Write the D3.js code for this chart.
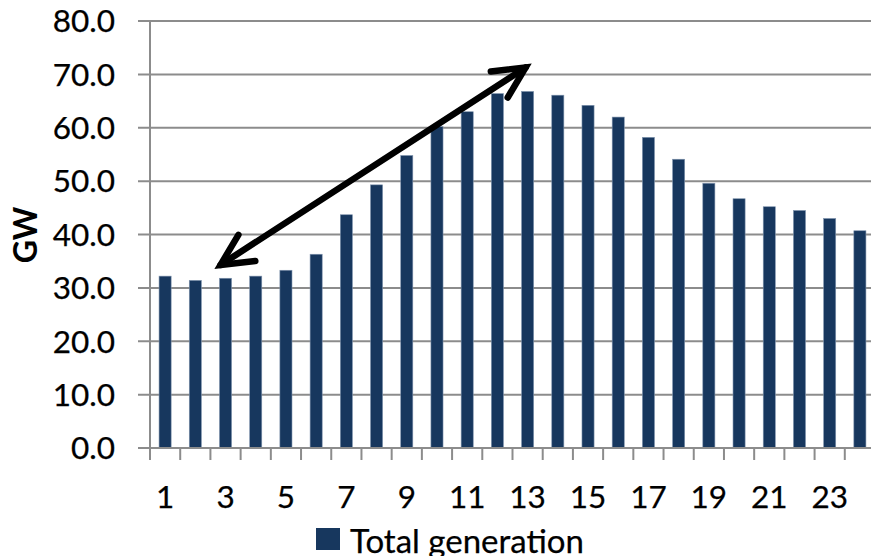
<!DOCTYPE html>
<html>
<head>
<meta charset="utf-8">
<script src="https://cdn.jsdelivr.net/npm/d3@7"></script>
<style>
  html, body { margin: 0; padding: 0; background: #fff; }
  svg { display: block; font-family: Lato, "Open Sans", sans-serif; }
  .lbl { stroke: #000; stroke-width: 0.25px; }
</style>
</head>
<body>
<svg id="chart" width="871" height="556"></svg>
<script>
// Hourly total generation (GW)
const hours = d3.range(1, 25);
const generation = [32.2, 31.4, 31.8, 32.2, 33.3, 36.3, 43.7, 49.3, 54.8, 60.2, 63.0, 66.4,
                    66.8, 66.1, 64.2, 62.0, 58.2, 54.1, 49.6, 46.7, 45.2, 44.5, 43.0, 40.7];
const yTicks = [0, 10, 20, 30, 40, 50, 60, 70, 80];
const xTickLabels = [1, 3, 5, 7, 9, 11, 13, 15, 17, 19, 21, 23];
const seriesName = "Total generation";
const yTitle = "GW";
// Arrow annotation endpoints: [hour, GW]
const arrowFrom = [3, 34.3];
const arrowTo = [13, 71.3];

const svg = d3.select("#chart");
const plot = { left: 150, right: 875, top: 21, bottom: 448 };

const x = d3.scaleBand().domain(hours).range([plot.left, plot.right]).paddingInner(0.6).paddingOuter(0.3);
const xEdge = d3.scaleBand().domain(hours).range([plot.left, plot.right]);
const y = d3.scaleLinear().domain([0, 80]).range([plot.bottom, plot.top]);

const gridColor = "#8c8c8c";
const barColor = "#17375e";

// Horizontal gridlines with short outer ticks
svg.append("g").selectAll("line").data(yTicks).join("line")
  .attr("x1", plot.left - 12).attr("x2", plot.right)
  .attr("y1", d => y(d)).attr("y2", d => y(d))
  .attr("stroke", gridColor).attr("stroke-width", 2);

// Y axis line
svg.append("line")
  .attr("x1", plot.left).attr("x2", plot.left)
  .attr("y1", plot.top).attr("y2", plot.bottom)
  .attr("stroke", gridColor).attr("stroke-width", 2);

// Y tick labels
svg.append("g").selectAll("text").data(yTicks).join("text")
  .attr("class", "lbl")
  .attr("x", 115).attr("y", d => y(d)).attr("dy", "0.36em")
  .attr("text-anchor", "end").attr("font-size", 31.5).attr("fill", "#000")
  .text(d => d3.format(".1f")(d));

// Category ticks below the baseline, at band edges
const edges = hours.map(h => xEdge(h)).concat([plot.right]);
svg.append("g").selectAll("line").data(edges).join("line")
  .attr("x1", d => d).attr("x2", d => d)
  .attr("y1", plot.bottom).attr("y2", plot.bottom + 12)
  .attr("stroke", gridColor).attr("stroke-width", 2);

// Bars
svg.append("g").selectAll("rect").data(hours).join("rect")
  .attr("x", h => x(h)).attr("width", x.bandwidth())
  .attr("y", (h, i) => y(generation[i]))
  .attr("height", (h, i) => y(0) - y(generation[i]))
  .attr("fill", barColor)
  .attr("stroke", "#7f93ad").attr("stroke-width", 0.6);

// Baseline on top of bars
svg.append("line")
  .attr("x1", plot.left - 12).attr("x2", plot.right)
  .attr("y1", y(0)).attr("y2", y(0))
  .attr("stroke", gridColor).attr("stroke-width", 2);

// X tick labels (odd hours)
svg.append("g").selectAll("text").data(xTickLabels).join("text")
  .attr("class", "lbl")
  .attr("x", h => x(h) + x.bandwidth() / 2).attr("y", 508)
  .attr("text-anchor", "middle").attr("font-size", 31.5).attr("fill", "#000")
  .text(d => d);

// Y axis title
svg.append("text")
  .attr("transform", "translate(37,235) rotate(-90)")
  .attr("text-anchor", "middle").attr("font-size", 32).attr("font-weight", "bold")
  .attr("fill", "#000").text(yTitle);

// Double-headed arrow annotation
const ax = h => x(h) + x.bandwidth() / 2;
const p0 = [ax(arrowFrom[0]) - 5, y(arrowFrom[1])];
const p1 = [ax(arrowTo[0]) - 2, y(arrowTo[1])];
const arrow = svg.append("g").attr("stroke", "#000").attr("stroke-width", 6.5)
  .attr("stroke-linecap", "round").attr("stroke-linejoin", "miter").attr("fill", "none");
arrow.append("line").attr("x1", p0[0]).attr("y1", p0[1]).attr("x2", p1[0]).attr("y2", p1[1]);
function head(tip, from) {
  const ang = Math.atan2(from[1] - tip[1], from[0] - tip[0]);
  const len = 35, spread = 0.46;
  const a = [tip[0] + len * Math.cos(ang + spread), tip[1] + len * Math.sin(ang + spread)];
  const b = [tip[0] + len * Math.cos(ang - spread), tip[1] + len * Math.sin(ang - spread)];
  arrow.append("path").attr("d", d3.line()([a, tip, b]));
}
head(p0, p1);
head(p1, p0);

// Legend
const legend = svg.append("g").attr("transform", "translate(316,528)");
legend.append("rect").attr("width", 24).attr("height", 22).attr("fill", barColor);
legend.append("text").attr("class", "lbl").attr("x", 34).attr("y", 25)
  .attr("font-size", 33).attr("fill", "#000").text(seriesName);
</script>
</body>
</html>
